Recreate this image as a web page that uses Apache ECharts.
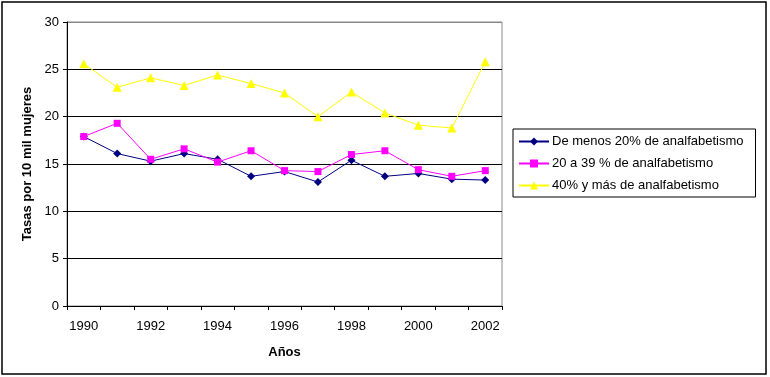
<!DOCTYPE html>
<html>
<head>
<meta charset="utf-8">
<script src="https://cdn.jsdelivr.net/npm/echarts@6/dist/echarts.min.js"></script>
<style>
  html, body { margin: 0; padding: 0; background: #fff; }
  #chart { width: 770px; height: 377px; }
</style>
</head>
<body>
<div id="chart"></div>
<script>
/* datos */
const years = ['1990', '1991', '1992', '1993', '1994', '1995', '1996', '1997', '1998', '1999', '2000', '2001', '2002'];
const menos20 = [17.9, 16.1, 15.3, 16.1, 15.5, 13.7, 14.2, 13.1, 15.4, 13.7, 14.0, 13.4, 13.3];
const de20a39 = [17.9, 19.3, 15.5, 16.6, 15.2, 16.4, 14.3, 14.2, 16.0, 16.4, 14.4, 13.7, 14.3];
const mas40 = [25.6, 23.1, 24.1, 23.3, 24.4, 23.5, 22.5, 20.0, 22.6, 20.4, 19.1, 18.8, 25.8];
const seriesNames = ['De menos 20% de analfabetismo', '20 a 39 % de analfabetismo', '40% y más de analfabetismo'];

const fontFamily = '"Liberation Sans", Arial, sans-serif';
const chart = echarts.init(document.getElementById('chart'));

const option = {
    animation: false,
    textStyle: { fontFamily: fontFamily },
    graphic: [{
        type: 'rect',
        shape: { x: 2, y: 2, width: 764, height: 372 },
        style: { fill: 'none', stroke: '#000', lineWidth: 1.5 },
        silent: true
    }],
    grid: {
        left: 67,
        top: 22,
        width: 435,
        height: 284,
        show: true,
        borderColor: '#888',
        borderWidth: 1,
        containLabel: false
    },
    legend: {
        orient: 'vertical',
        left: 513,
        top: 129,
        padding: [6, 12, 5, 5],
        itemGap: 9,
        itemWidth: 30,
        itemHeight: 10,
        borderColor: '#000',
        borderWidth: 1,
        textStyle: { fontFamily: fontFamily, fontSize: 13, color: '#000', padding: [0, 0, 0, -2] },
        data: seriesNames
    },
    xAxis: {
        type: 'category',
        data: years,
        boundaryGap: true,
        name: 'Años',
        nameLocation: 'middle',
        nameGap: 40,
        nameTextStyle: { fontFamily: fontFamily, fontSize: 13, fontWeight: 'bold', color: '#000' },
        axisLine: { lineStyle: { color: '#000', width: 1 } },
        axisTick: { show: true, interval: 0, length: 4, inside: false, lineStyle: { color: '#000' } },
        axisLabel: { interval: 1, margin: 14, fontSize: 13, color: '#000', fontFamily: fontFamily },
        splitLine: { show: false }
    },
    yAxis: {
        type: 'value',
        min: 0,
        max: 30,
        interval: 5,
        name: 'Tasas por 10 mil mujeres',
        nameLocation: 'middle',
        nameGap: 33,
        nameTextStyle: { fontFamily: fontFamily, fontSize: 13, fontWeight: 'bold', color: '#000' },
        axisLine: { show: true, lineStyle: { color: '#000', width: 1 } },
        axisTick: { show: true, length: 4, lineStyle: { color: '#000' } },
        axisLabel: { margin: 8, fontSize: 13, color: '#000', fontFamily: fontFamily },
        splitLine: {
            show: true,
            lineStyle: { color: ['#000', '#000', '#000', '#000', '#000', '#000', '#888'], width: 1 }
        }
    },
    series: [
        {
            name: seriesNames[0],
            type: 'line',
            data: menos20,
            symbol: 'diamond',
            symbolSize: 8,
            color: '#000080',
            lineStyle: { width: 1, color: '#000080' },
            itemStyle: { color: '#000080' }
        },
        {
            name: seriesNames[1],
            type: 'line',
            data: de20a39,
            symbol: 'rect',
            symbolSize: 7,
            color: '#ff00ff',
            lineStyle: { width: 1, color: '#ff00ff' },
            itemStyle: { color: '#ff00ff' }
        },
        {
            name: seriesNames[2],
            type: 'line',
            data: mas40,
            symbol: 'triangle',
            symbolSize: 9,
            color: '#ffff00',
            lineStyle: { width: 1, color: '#ffff00' },
            itemStyle: { color: '#ffff00' }
        }
    ]
};

chart.setOption(option);
</script>
</body>
</html>
